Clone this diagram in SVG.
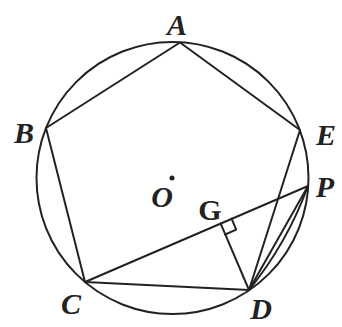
<svg xmlns="http://www.w3.org/2000/svg" width="342" height="327" viewBox="0 0 342 327">
<style>
.ln{stroke:#222;stroke-width:2;fill:none;stroke-linecap:round;stroke-linejoin:round}
.lb{font-family:"Liberation Serif","Times New Roman",serif;font-style:italic;font-weight:bold;font-size:30px;fill:#222;text-anchor:middle}
.up{font-style:normal}
</style>
<rect width="342" height="327" fill="#fff"/>
<g id="circle"><circle class="ln" cx="172.5" cy="178" r="136"/></g>
<g id="connectors">
<polyline class="ln" points="180,42.5 46,128 85,282 249,290 300,130 180,42.5"/>
<line class="ln" x1="85" y1="282" x2="308" y2="186"/>
<line class="ln" x1="249" y1="290" x2="308" y2="186"/>
<path class="ln" d="M249,290 Q287.2,242.9 308,186"/>
<line class="ln" x1="249" y1="290" x2="220.6" y2="223.4"/>
<polyline class="ln" points="231.6,218.6 236.2,229.7 225.2,234.5"/>
</g>
<g id="node-A"><text class="lb" x="177" y="35">A</text></g>
<g id="node-B"><text class="lb" x="24" y="143">B</text></g>
<g id="node-E"><text class="lb" x="326" y="145">E</text></g>
<g id="node-P"><text class="lb" x="325" y="197">P</text></g>
<g id="node-O"><circle cx="172" cy="178" r="2.5" fill="#222"/><text class="lb" x="162" y="207">O</text></g>
<g id="node-G"><text class="lb up" x="210" y="220">G</text></g>
<g id="node-C"><text class="lb" x="71" y="314">C</text></g>
<g id="node-D"><text class="lb" x="261" y="319">D</text></g>
</svg>
